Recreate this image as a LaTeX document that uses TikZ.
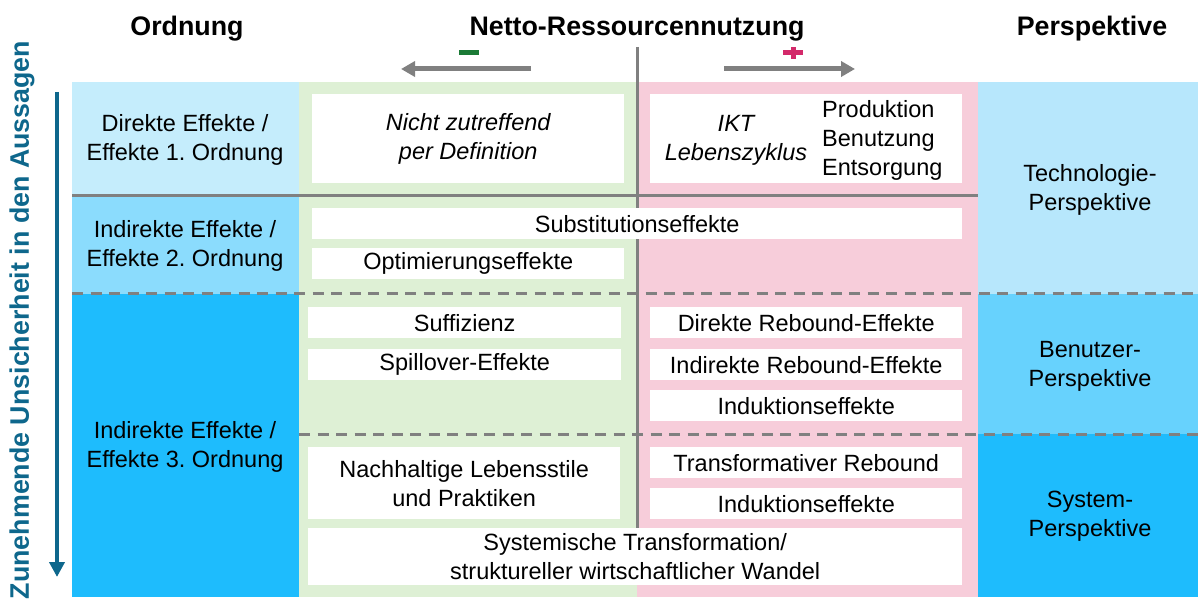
\documentclass[tikz,border=0pt]{standalone}
\usepackage{fontspec}
\setmainfont{Liberation Sans}
\usetikzlibrary{arrows.meta}
\frenchspacing

\definecolor{ordA}{HTML}{C5EDFC}
\definecolor{ordB}{HTML}{8BDCFD}
\definecolor{ordC}{HTML}{1EBCFD}
\definecolor{perA}{HTML}{B7E7FC}
\definecolor{perB}{HTML}{67D2FD}
\definecolor{minusbg}{HTML}{DEF0D5}
\definecolor{plusbg}{HTML}{F7CDDA}
\definecolor{linegray}{HTML}{808080}
\definecolor{unsicher}{HTML}{0E678C}
\definecolor{minusgreen}{HTML}{1B7A36}
\definecolor{plusred}{HTML}{D3296A}

\begin{document}
\begin{tikzpicture}[x=1pt,y=-1pt,
  box/.style={fill=white,inner sep=0pt,anchor=north west,align=center,
    font=\fontsize{23.5}{29}\selectfont},
  txt/.style={align=center,inner sep=0pt,font=\fontsize{23.5}{29}\selectfont},
  head/.style={anchor=base,inner sep=0pt,font=\fontsize{26.8}{32}\selectfont\bfseries},
  sepline/.style={linegray,line width=3pt},
  dashline/.style={linegray,line width=3pt,dash pattern=on 11pt off 7.5pt},
  pmarrow/.style={linegray,line width=5pt,-{Triangle[length=14pt,width=15pt]}}]
\useasboundingbox (0,0) rectangle (1198,601);

% backgrounds
\fill[ordA] (72,82) rectangle (299,196);
\fill[ordB] (72,196) rectangle (299,294);
\fill[ordC] (72,294) rectangle (299,597);
\fill[minusbg] (299,82) rectangle (637,597);
\fill[plusbg] (637,82) rectangle (978,597);
\fill[perA] (978,82) rectangle (1198,294);
\fill[perB] (978,294) rectangle (1198,434);
\fill[ordC] (978,434) rectangle (1198,597);

% headers
\node[head] (hOrd) at (187,36) {Ordnung};
\node[head] (hNetto) at (637,36) {Netto-Ressourcennutzung};
\node[head] (hPersp) at (1092,36) {Perspektive};

% minus / plus
\coordinate (mStart) at (531,69);
\coordinate (mEnd) at (401,69);
\coordinate (pStart) at (724,69);
\coordinate (pEnd) at (855,69);
\draw[pmarrow] (mStart) -- (mEnd);
\draw[pmarrow] (pStart) -- (pEnd);
\draw[minusgreen,line width=5pt] (459,53) -- (479,53);
\draw[plusred,line width=5pt] (783,53) -- (803,53) (793,47) -- (793,59);

% uncertainty axis
\coordinate (uTop) at (57,92);
\coordinate (uEnd) at (57,577);
\draw[unsicher,line width=4.5pt,-{Triangle[length=15pt,width=15pt]}] (uTop) -- (uEnd);
\node[rotate=90,inner sep=0pt,text=unsicher,font=\fontsize{26.8}{32}\selectfont\bfseries]
  (unsicherheit) at (22,320) {Zunehmende Unsicherheit in den Aussagen};

% separators
\draw[sepline] (637,47) -- (637,528);
\draw[sepline] (72,196) -- (978,196);
\draw[dashline] (72,294) -- (1198,294);
\draw[dashline] (299,434) -- (1198,434);

% Ordnung
\node[txt] (ord1) at (185,140) {Direkte Effekte /\\Effekte 1. Ordnung};
\node[txt] (ord2) at (185,246) {Indirekte Effekte /\\Effekte 2. Ordnung};
\node[txt] (ord3) at (185,447) {Indirekte Effekte /\\Effekte 3. Ordnung};

% Perspektive
\node[txt] (perTech) at (1090,190) {Technologie-\\Perspektive};
\node[txt] (perUser) at (1090,366) {Benutzer-\\Perspektive};
\node[txt] (perSys) at (1090,516) {System-\\Perspektive};

% effect boxes
\node[box,minimum width=312pt,minimum height=89pt] (nichtzu) at (312,94)
  {\itshape Nicht zutreffend\\\itshape per Definition};
\node[box,minimum width=312pt,minimum height=89pt] (ikt) at (650,94) {};
\node[txt] (iktname) at (736,140) {\itshape IKT\\\itshape Lebenszyklus};
\node[txt,align=left,anchor=west] (phasen) at (822,140) {Produktion\\Benutzung\\Entsorgung};

\node[box,minimum width=650pt,minimum height=31pt] (subst) at (312,208) {Substitutionseffekte};
\node[box,minimum width=312pt,minimum height=31pt] (optim) at (312,248) {Optimierungseffekte};

\node[box,minimum width=313pt,minimum height=31pt] (suff) at (308,307) {Suffizienz};
\node[box,minimum width=313pt,minimum height=31pt] (spill) at (308,349) {Spillover-Effekte};
\node[box,minimum width=312pt,minimum height=31pt] (drb) at (650,307) {Direkte Rebound-Effekte};
\node[box,minimum width=312pt,minimum height=31pt] (irb) at (650,349) {Indirekte Rebound-Effekte};
\node[box,minimum width=312pt,minimum height=31pt] (indA) at (650,390) {Induktionseffekte};

\node[box,minimum width=312pt,minimum height=72pt] (nachh) at (308,447)
  {Nachhaltige Lebensstile\\und Praktiken};
\node[box,minimum width=312pt,minimum height=31pt] (trb) at (650,447) {Transformativer Rebound};
\node[box,minimum width=312pt,minimum height=31pt] (indB) at (650,488) {Induktionseffekte};
\node[box,minimum width=654pt,minimum height=57pt] (system) at (308,528)
  {Systemische Transformation/\\struktureller wirtschaftlicher Wandel};
\end{tikzpicture}
\end{document}
